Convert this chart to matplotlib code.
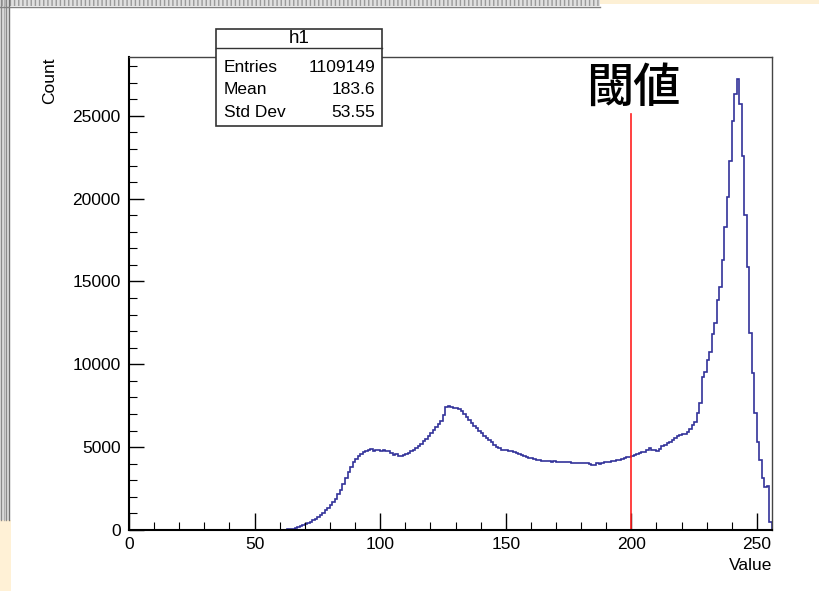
import matplotlib
matplotlib.use('Agg')
import matplotlib.pyplot as plt
from matplotlib.patches import Rectangle
from matplotlib.lines import Line2D
import numpy as np

plt.rcParams['font.family'] = ['Liberation Sans', 'DejaVu Sans']

# bin edges 0..256, one count per bin
edges = np.arange(0, 257)
counts = [
    0, 0, 0, 0, 0, 0, 0, 0, 0, 0, 0, 0, 0, 0, 0, 0,
    0, 0, 0, 0, 0, 0, 0, 0, 0, 0, 0, 0, 0, 0, 0, 0,
    0, 0, 0, 0, 0, 0, 0, 0, 0, 0, 0, 0, 0, 0, 0, 0,
    0, 0, 0, 0, 0, 0, 0, 0, 0, 0, 2, 5, 10, 18, 28, 40,
    55, 70, 110, 180, 230, 290, 340, 420, 500, 580, 670, 760, 880, 1020, 1200, 1340,
    1500, 1700, 1900, 2150, 2400, 2780, 3110, 3480, 3810, 4080, 4260, 4450, 4580, 4700, 4780, 4830,
    4860, 4790, 4850, 4810, 4760, 4800, 4740, 4780, 4620, 4520, 4560, 4490, 4480, 4530, 4560, 4640,
    4780, 4850, 4960, 5050, 5220, 5350, 5520, 5700, 5860, 6010, 6200, 6380, 6600, 6930, 7410, 7470,
    7430, 7390, 7350, 7300, 7190, 7010, 6830, 6620, 6440, 6290, 6140, 6000, 5860, 5700, 5560, 5420,
    5290, 5150, 5020, 4930, 4850, 4830, 4820, 4790, 4760, 4700, 4660, 4600, 4540, 4460, 4400, 4370,
    4330, 4280, 4250, 4220, 4190, 4180, 4160, 4150, 4130, 4140, 4120, 4110, 4100, 4090, 4110, 4080,
    4070, 4060, 4050, 4040, 4020, 4060, 4030, 4000, 3950, 3920, 4050, 3980, 4060, 4090, 4120, 4130,
    4160, 4180, 4200, 4220, 4280, 4330, 4380, 4420, 4440, 4500, 4560, 4620, 4720, 4680, 4830, 4920,
    4850, 4800, 4780, 4900, 5050, 5120, 5230, 5330, 5420, 5560, 5680, 5720, 5800, 5820, 5900, 6100,
    6320, 6520, 7050, 7650, 9240, 9540, 10240, 10740, 11860, 12470, 13860, 14660, 16270, 18270, 20080, 22290,
    24700, 26310, 27230, 25700, 22600, 19000, 15900, 11900, 9450, 7050, 5320, 4220, 3110, 2610, 2650, 500,
]

hist_name = 'h1'
stat_names = ['Entries', 'Mean', 'Std Dev']
stat_values = ['1109149', '183.6', '53.55']
threshold = 200
threshold_top = 25100
threshold_label = '閾値'

W, H = 820, 591
fig = plt.figure(figsize=(W / 100, H / 100), dpi=100)
fig.patch.set_facecolor('white')

def fx(x):
    return x / W

def fy(y):
    return 1 - y / H

ax = fig.add_axes([fx(129), fy(530), fx(772) - fx(129), fy(57) - fy(530)])

ax.stairs(counts, edges, baseline=0, color='#32329a', lw=1.2)
ax.plot([threshold, threshold], [0, threshold_top], color='#ff2020', lw=1.2)
ax.text(threshold + 0.6, 26630, threshold_label, family=['Noto Sans CJK JP'],
        fontsize=34, weight='medium', ha='center', va='center', color='black')

ax.set_xlim(0, 256)
ax.set_ylim(0, 28550)
ax.set_xticks(np.arange(0, 251, 50))
ax.set_xticks(np.arange(0, 257, 10), minor=True)
ax.set_yticks(np.arange(0, 25001, 5000))
ax.set_yticks(np.arange(0, 28001, 1000), minor=True)
ax.tick_params(axis='x', which='major', direction='in', length=12, width=1, pad=5, labelsize=12.5)
ax.tick_params(axis='x', which='minor', direction='in', length=6, width=0.8)
ax.tick_params(axis='y', which='major', direction='in', length=11, width=1, pad=6, labelsize=12.5)
ax.tick_params(axis='y', which='minor', direction='in', length=6, width=0.8)
for s in ['left', 'bottom']:
    ax.spines[s].set_linewidth(1.5)
    ax.spines[s].set_color('black')
for s in ['top', 'right']:
    ax.spines[s].set_linewidth(1.0)
    ax.spines[s].set_color('#444444')

fig.text(fx(772), fy(565), 'Value', ha='right', va='center', fontsize=12.5)
fig.text(fx(50), fy(57), 'Count', ha='center', va='top', rotation=90, fontsize=12.5)

# stats box
box = Rectangle((fx(216), fy(126)), fx(382) - fx(216), fy(29) - fy(126),
                transform=fig.transFigure, facecolor='white', edgecolor='#333333', lw=1.2, zorder=5)
fig.add_artist(box)
fig.add_artist(Line2D([fx(216), fx(382)], [fy(48), fy(48)], transform=fig.transFigure,
                      color='#333333', lw=1.0, zorder=6))
fig.text(fx(299), fy(38.5), hist_name, ha='center', va='center', fontsize=13.5, zorder=7)
for i, (n, v) in enumerate(zip(stat_names, stat_values)):
    yy = fy(67 + 23 * i)
    fig.text(fx(224), yy, n, ha='left', va='center', fontsize=12.5, zorder=7)
    fig.text(fx(375), yy, v, ha='right', va='center', fontsize=12.5, zorder=7)

# slide decorations round the screenshot
fig.add_artist(Rectangle((0, fy(520)), fx(10), fy(0) - fy(520), transform=fig.transFigure,
                         facecolor='#e4e4e4', edgecolor='none', zorder=1))
for x, c in [(1.5, '#8a8a8a'), (4, '#b0b0b0'), (6.5, '#8a8a8a'), (9.5, '#707070')]:
    fig.add_artist(Line2D([fx(x), fx(x)], [fy(520), 1], transform=fig.transFigure,
                          color=c, lw=1.0, zorder=2))
fig.add_artist(Rectangle((0, fy(6)), fx(600), fy(0) - fy(6), transform=fig.transFigure,
                         facecolor='#e0e0e0', edgecolor='#9a9a9a', hatch='||||', lw=0, zorder=1))
fig.add_artist(Line2D([0, fx(600)], [fy(6.5), fy(6.5)], transform=fig.transFigure,
                      color='#808080', lw=1.0, zorder=2))
fig.add_artist(Rectangle((fx(600), fy(4)), fx(820) - fx(600), fy(0) - fy(4), transform=fig.transFigure,
                         facecolor='#fdf0d5', edgecolor='none', zorder=1))
fig.add_artist(Rectangle((0, 0), fx(11), fy(520), transform=fig.transFigure,
                         facecolor='#fff1d6', edgecolor='none', zorder=1))

fig.savefig('out.png', dpi=100)
